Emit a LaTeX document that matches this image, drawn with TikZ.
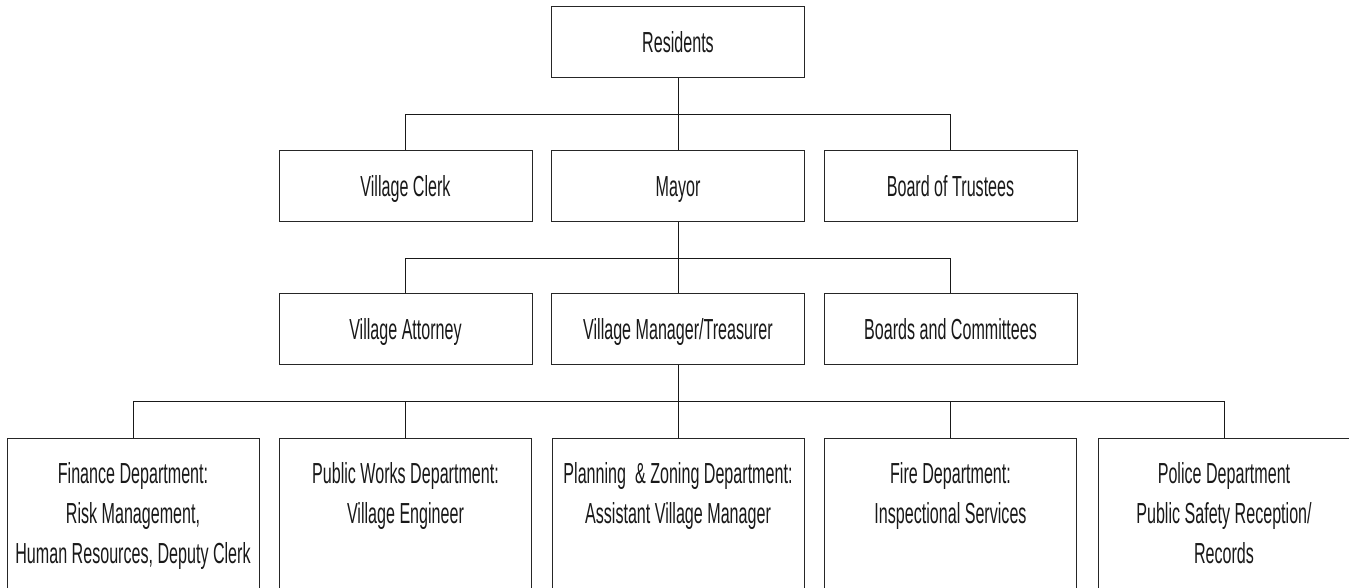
\documentclass[tikz,border=0pt]{standalone}
\usepackage{fontspec}
\setmainfont[FakeStretch=0.555]{Liberation Sans}
\begin{document}
\begin{tikzpicture}[x=1pt,y=-1pt,
  line width=1pt,
  box/.style={draw=black!85, fill=white, inner sep=0pt, minimum width=253pt, minimum height=71pt,
    text height=20.5pt, text depth=0pt, font=\fontsize{29}{40}\selectfont, text=black!90},
  bigbox/.style={draw=black!85, fill=white, inner sep=0pt, minimum width=252pt, minimum height=175pt, anchor=north},
  boxtext/.style={anchor=north, inner sep=0pt, align=center, font=\fontsize{29}{40}\selectfont, text=black!90},
  link/.style={draw=black!90, line width=1pt}]
\useasboundingbox (0,0) rectangle (1349,588);
\clip (0,0) rectangle (1349,588);
\fill[white] (0,0) rectangle (1349,588);

% row 1
\node[box] (res) at (678,42.5) {Residents};
% row 2
\node[box] (clerk) at (405.5,186) {Village Clerk};
\node[box] (mayor) at (678,186) {Mayor};
\node[box] (trust) at (950.5,186) {Board of Trustees};
% row 3
\node[box] (att) at (405.5,329) {Village Attorney};
\node[box] (mgr) at (678,329) {Village Manager/Treasurer};
\node[box] (boards) at (950.5,329) {Boards and Committees};
% row 4
\node[bigbox] (fin) at (133,438) {};
\node[bigbox] (pw) at (405.5,438) {};
\node[bigbox] (plan) at (678,438) {};
\node[bigbox] (fire) at (950.5,438) {};
\node[bigbox] (pol) at (1224,438) {};
\node[boxtext] (finT) at (133,461.5) {Finance Department:\\Risk Management,\\Human Resources, Deputy Clerk};
\node[boxtext] (pwT) at (405.5,461.5) {Public Works Department:\\Village Engineer};
\node[boxtext] (planT) at (678,461.5) {Planning\ \ \& Zoning Department:\\Assistant Village Manager};
\node[boxtext] (fireT) at (950.5,461.5) {Fire Department:\\Inspectional Services};
\node[boxtext] (polT) at (1224,461.5) {Police Department\\Public Safety Reception/\\Records};

% connectors
\draw[link] (res.south) -- (mayor.north);
\draw[link] (clerk.north) -- (clerk.north |- 0,115) -| (trust.north);
\draw[link] (mayor.south) -- (mgr.north);
\draw[link] (att.north) -- (att.north |- 0,258) -| (boards.north);
\draw[link] (mgr.south) -- (plan.north);
\draw[link] (fin.north) -- (fin.north |- 0,401) -| (pol.north);
\draw[link] (pw.north) -- (pw.north |- 0,401);
\draw[link] (fire.north) -- (fire.north |- 0,401);
\end{tikzpicture}
\end{document}
